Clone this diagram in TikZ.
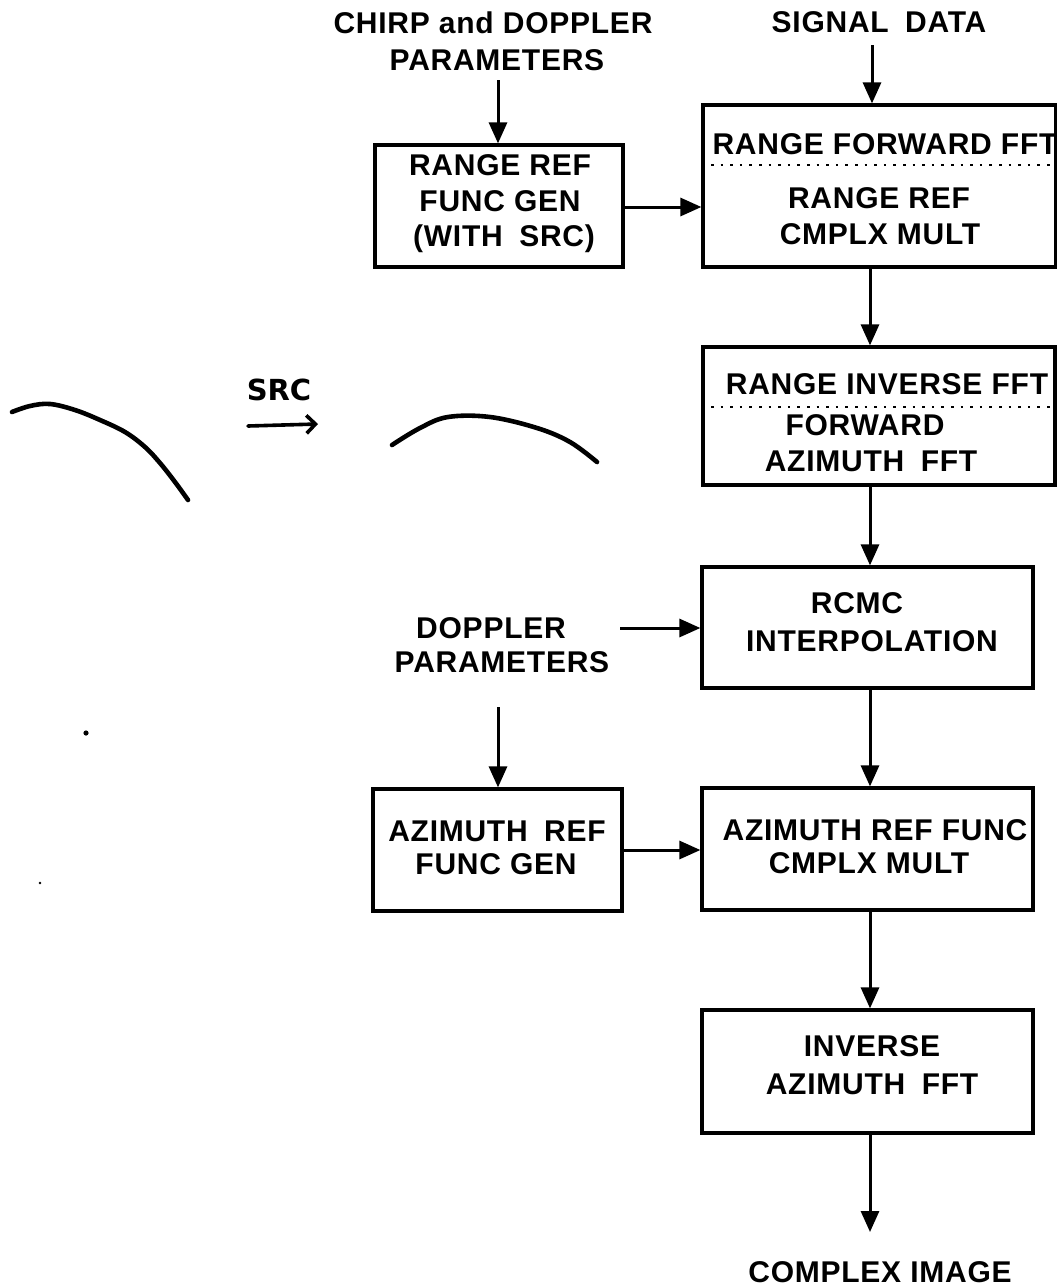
\documentclass[tikz,border=0pt]{standalone}
\usepackage{fontspec}
\setmainfont{Liberation Sans}
\newfontfamily\lblfont{Liberation Sans}[LetterSpace=2.5]
\newfontfamily\handfont{DejaVu Sans}
\usetikzlibrary{arrows.meta}
\newcommand\wsp{\hspace{0.55em}}
\tikzset{
  lbl/.style={font=\lblfont\fontsize{30}{36}\selectfont\bfseries, inner sep=0pt, text height=21.5pt, text depth=0pt},
  blk/.style={draw, line width=3.2pt, rectangle, inner sep=0pt},
  arr/.style={line width=3pt, -{Triangle[length=21pt,width=18pt]}},
  sep/.style={line width=2.6pt, dash pattern=on 2.6pt off 7pt},
  hand/.style={line width=4.6pt, line cap=round, line join=round},
}
\begin{document}
\begin{tikzpicture}[x=1pt,y=-1pt]
\useasboundingbox[fill=white] (0,0) rectangle (1057,1288);

% boxes
\node[blk, minimum width=248pt, minimum height=122pt] (rrfg) at (499,206) {};
\node[blk, minimum width=353pt, minimum height=162pt] (rfft) at (879.5,186) {};
\node[blk, minimum width=352pt, minimum height=138pt] (rifft) at (879,416) {};
\node[blk, minimum width=331pt, minimum height=121pt] (rcmc) at (867.5,627.5) {};
\node[blk, minimum width=249pt, minimum height=122pt] (azgen) at (497.5,850) {};
\node[blk, minimum width=331pt, minimum height=122pt] (azcm) at (867.5,849) {};
\node[blk, minimum width=331pt, minimum height=123pt] (iaz) at (867.5,1071.5) {};

% dotted separators
\draw[sep] (rfft.west |- 0,165) -- (rfft.east |- 0,165);
\draw[sep] (rifft.west |- 0,407) -- (rifft.east |- 0,407);

% texts
\node[lbl] (chirp) at (493,23) {CHIRP and DOPPLER};
\node[lbl] (chirpp) at (497,60) {PARAMETERS};
\node[lbl] (sig) at (879,22) {SIGNAL\wsp DATA};
\node[lbl] (t1) at (500,165) {RANGE REF};
\node[lbl] (t2) at (500,201) {FUNC GEN};
\node[lbl] (t3) at (504,236) {(WITH\wsp SRC)};
\node[lbl] (t4) at (885,144) {RANGE FORWARD FFT};
\node[lbl] (t5) at (879,198) {RANGE REF};
\node[lbl] (t6) at (880,234) {CMPLX MULT};
\node[lbl] (t7) at (887,384) {RANGE INVERSE FFT};
\node[lbl] (t8) at (865,425) {FORWARD};
\node[lbl] (t9) at (871,461) {AZIMUTH\wsp FFT};
\node[lbl] (t10) at (857,603) {RCMC};
\node[lbl] (t11) at (872,641) {INTERPOLATION};
\node[lbl] (dop) at (491,628) {DOPPLER};
\node[lbl] (dopp) at (502,662) {PARAMETERS};
\node[lbl] (t12) at (497,831) {AZIMUTH\wsp REF};
\node[lbl] (t13) at (496,864) {FUNC GEN};
\node[lbl] (t14) at (875,830) {AZIMUTH REF FUNC};
\node[lbl] (t15) at (869,863) {CMPLX MULT};
\node[lbl] (t16) at (872,1046) {INVERSE};
\node[lbl] (t17) at (872,1084) {AZIMUTH\wsp FFT};
\node[lbl] (out) at (880,1272) {COMPLEX IMAGE};

% connector anchors
\coordinate (col) at (870,0);
\coordinate (cin) at (498,80);
\coordinate (sin) at (872,45);
\coordinate (din) at (620,628);
\coordinate (ddown) at (498,707);
\coordinate (oend) at (870,1232);

% connectors
\draw[arr] (cin) -- (cin |- rrfg.north);
\draw[arr] (sin) -- (sin |- rfft.north);
\draw[arr] (rrfg.east |- 0,207) -- (rfft.west |- 0,207);
\draw[arr] (rfft.south -| col) -- (rifft.north -| col);
\draw[arr] (rifft.south -| col) -- (rcmc.north -| col);
\draw[arr] (din) -- (din -| rcmc.west);
\draw[arr] (rcmc.south -| col) -- (azcm.north -| col);
\draw[arr] (ddown) -- (ddown |- azgen.north);
\draw[arr] (azgen.east) -- (azgen.east -| azcm.west);
\draw[arr] (azcm.south -| col) -- (iaz.north -| col);
\draw[arr] (iaz.south -| col) -- (oend);

% handwritten sketch
\draw[hand] plot[smooth, tension=0.6] coordinates {(12,412) (30,406) (50,404) (75,410) (100,420) (125,432) (145,447) (160,463) (175,482) (188,500)};
\draw[hand] plot[smooth, tension=0.6] coordinates {(392,445) (420,428) (448,417) (490,417) (537,428) (570,442) (597,462)};
\node[font=\handfont\fontsize{29}{34}\selectfont\bfseries, inner sep=0pt, text height=21pt, text depth=0pt] (src) at (279,390) {SRC};
\draw[hand, line width=3.6pt, -{Straight Barb[length=9pt,width=18pt,line width=3.6pt]}] (248,426) -- (318,424);

% specks
\fill (86,733) circle (2.6);
\fill (40,883) circle (1.3);
\end{tikzpicture}
\end{document}
